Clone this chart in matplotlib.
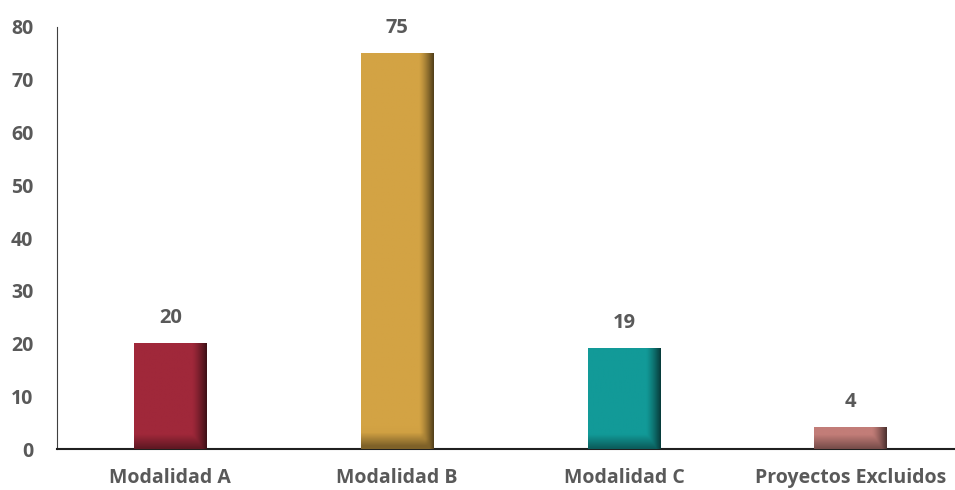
import matplotlib
matplotlib.use("Agg")
import matplotlib.pyplot as plt
import numpy as np
from matplotlib.colors import to_rgb

categories = ["Modalidad A", "Modalidad B", "Modalidad C", "Proyectos Excluidos"]
values = [20, 75, 19, 4]
colors = ["#A0283A", "#D3A344", "#129A98", "#C27D78"]
yticks = [0, 10, 20, 30, 40, 50, 60, 70, 80]

plt.rcParams['font.family'] = ['Open Sans', 'DejaVu Sans']
txt = "#595959"

fig = plt.figure(figsize=(9.55, 4.9), dpi=100)
ax = fig.add_axes([57/955, 1-449/490, (955-57)/955, (449-27)/490])

x = np.arange(len(categories))
w = 0.32
bars = ax.bar(x, values, width=w, color=colors, zorder=2)

# shading: darker right edge and bottom
for xi, v, c in zip(x, values, colors):
    base = np.array(to_rgb(c))
    nx, ny = 60, 60
    u = np.linspace(0, 1, nx)
    t = np.linspace(0, 1, ny)  # 0 bottom
    fx = np.clip((u - 0.8) / 0.2, 0, 1) ** 1.3 * 0.6
    hpx = v * 5.28
    fy = np.clip(1 - (t * hpx) / 14, 0, 1) * 0.4
    f = np.maximum(fx[None, :], fy[:, None])
    img = base[None, None, :] * (1 - f[..., None])
    ax.imshow(img, extent=(xi - w/2, xi + w/2, 0, v), origin='lower',
              aspect='auto', zorder=3, interpolation='bilinear')
    ax.text(xi, v + 3, str(v), ha='center', va='bottom', fontsize=14.5,
            fontweight='bold', color=txt)

ax.set_xlim(-0.5, 3.46)
ax.set_ylim(0, 80)
ax.set_yticks(yticks)
ax.set_xticks(x)
ax.set_xticklabels(categories)
for s in ['top', 'right']:
    ax.spines[s].set_visible(False)
ax.spines['left'].set_color('#404040')
ax.spines['bottom'].set_color('#202020')
ax.spines['bottom'].set_linewidth(1.5)
ax.tick_params(axis='both', length=0, labelsize=14, colors=txt)
ax.tick_params(axis='x', pad=14)
ax.tick_params(axis='y', pad=17)
for lab in ax.get_xticklabels() + ax.get_yticklabels():
    lab.set_fontweight('bold')
ax.set_axisbelow(True)

fig.savefig("out.png", dpi=100)
